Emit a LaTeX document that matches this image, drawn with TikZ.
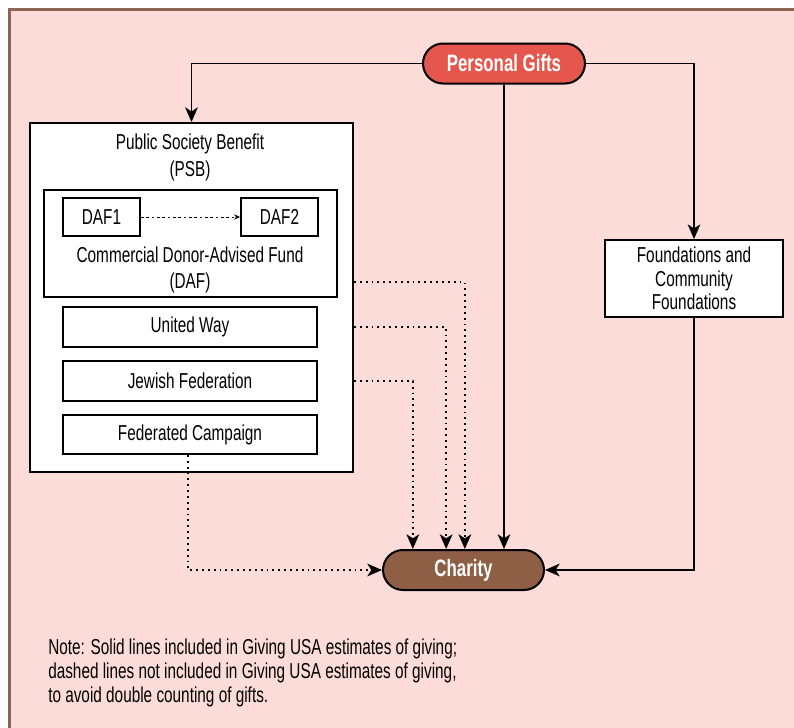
\documentclass[tikz,border=0pt]{standalone}
\usepackage{fontspec}
\setmainfont[FakeStretch=0.71]{Liberation Sans}
\usepackage{tikz}
\usetikzlibrary{arrows.meta,calc}
\definecolor{panel}{HTML}{FCDCD8}
\definecolor{frame}{HTML}{8D6552}
\definecolor{giftred}{HTML}{E5574C}
\definecolor{charbrown}{HTML}{8E5E45}
\tikzset{
  flowbox/.style={rectangle,draw=black,line width=1.4pt,fill=white,align=center,
    font=\fontsize{16.2}{17.6}\selectfont,inner sep=0pt},
  pillbox/.style={rectangle,rounded corners=15pt,draw=black,line width=1.5pt,
    text=white,font=\fontsize{17.8}{18}\selectfont\bfseries,inner sep=0pt,
    minimum height=30pt},
  solidarr/.style={-{Stealth[length=11pt,width=9.5pt,inset=3pt]},line width=1.1pt},
  dotarr/.style={-{Stealth[length=11pt,width=9.5pt,inset=3pt]},line width=1.4pt,
    dash pattern=on 1.4pt off 3pt},
  dafarr/.style={-{Stealth[length=4.5pt,width=4pt]},line width=0.7pt,
    dash pattern=on 2pt off 2pt},
  plainlabel/.style={align=center,font=\fontsize{16.2}{20}\selectfont,inner sep=0pt},
}
\begin{document}
\begin{tikzpicture}[x=0.75pt,y=-0.75pt]
  \useasboundingbox (0,0) rectangle (794,728);
  \fill[panel] (10,9) rectangle (794,728);
  \draw[frame,line width=2.25pt] (9.5,728) -- (9.5,9) -- (794,9);

  \node[pillbox,fill=giftred,minimum width=121.5pt] (gifts) at (504,63.5) {Personal Gifts};

  \node[flowbox,minimum width=242.25pt,minimum height=261.75pt] (psb) at (191.5,297.5) {};
  \node[plainlabel] (psbtitle) at (190,157.5) {Public Society Benefit\\(PSB)};
  \node[flowbox,minimum width=219.75pt,minimum height=80.25pt] (daf) at (190.5,243.5) {};
  \node[flowbox,minimum width=57.75pt,minimum height=28.5pt] (daf1) at (101.5,217) {DAF1};
  \node[flowbox,minimum width=57.75pt,minimum height=28.5pt] (daf2) at (279.5,217) {DAF2};
  \node[plainlabel,font=\fontsize{16.2}{19}\selectfont] (daftitle) at (190,270) {Commercial Donor-Advised Fund\\(DAF)};
  \node[flowbox,minimum width=190.5pt,minimum height=30pt] (uw) at (190,327) {United Way};
  \node[flowbox,minimum width=190.5pt,minimum height=30pt] (jf) at (190,381) {Jewish Federation};
  \node[flowbox,minimum width=190.5pt,minimum height=29.25pt] (fc) at (190,434.5) {Federated Campaign};

  \node[flowbox,minimum width=133.5pt,minimum height=57.75pt] (fnd) at (694,278.5) {Foundations and\\Community\\Foundations};

  \node[pillbox,fill=charbrown,minimum width=120.75pt] (charity) at (463.5,570) {Charity};

  \node[align=left,anchor=north west,inner sep=0pt,font=\fontsize{16.2}{18}\selectfont] (note) at (48,639)
    {Note: Solid lines included in Giving USA estimates of giving;\\
     dashed lines not included in Giving USA estimates of giving,\\
     to avoid double counting of gifts.};

  \draw[solidarr] (gifts.west) -| (psb.north);
  \draw[solidarr] (gifts.east) -| (fnd.north);
  \draw[solidarr] (gifts.south) -- (gifts.south |- charity.north);
  \draw[solidarr] (fnd.south) |- (charity.east);
  \draw[dafarr] (daf1.east) -- (daf2.west);
  \draw[dotarr] ([yshift=12pt]psb.east |- daf.south) -| ([xshift=1pt]charity.north);
  \draw[dotarr] (psb.east |- uw) -| ([xshift=-13pt]charity.north);
  \draw[dotarr] (psb.east |- jf) -| ([xshift=-38pt]charity.north);
  \draw[dotarr] ([xshift=-1.5pt]fc.south) |- (charity.west);
\end{tikzpicture}
\end{document}
